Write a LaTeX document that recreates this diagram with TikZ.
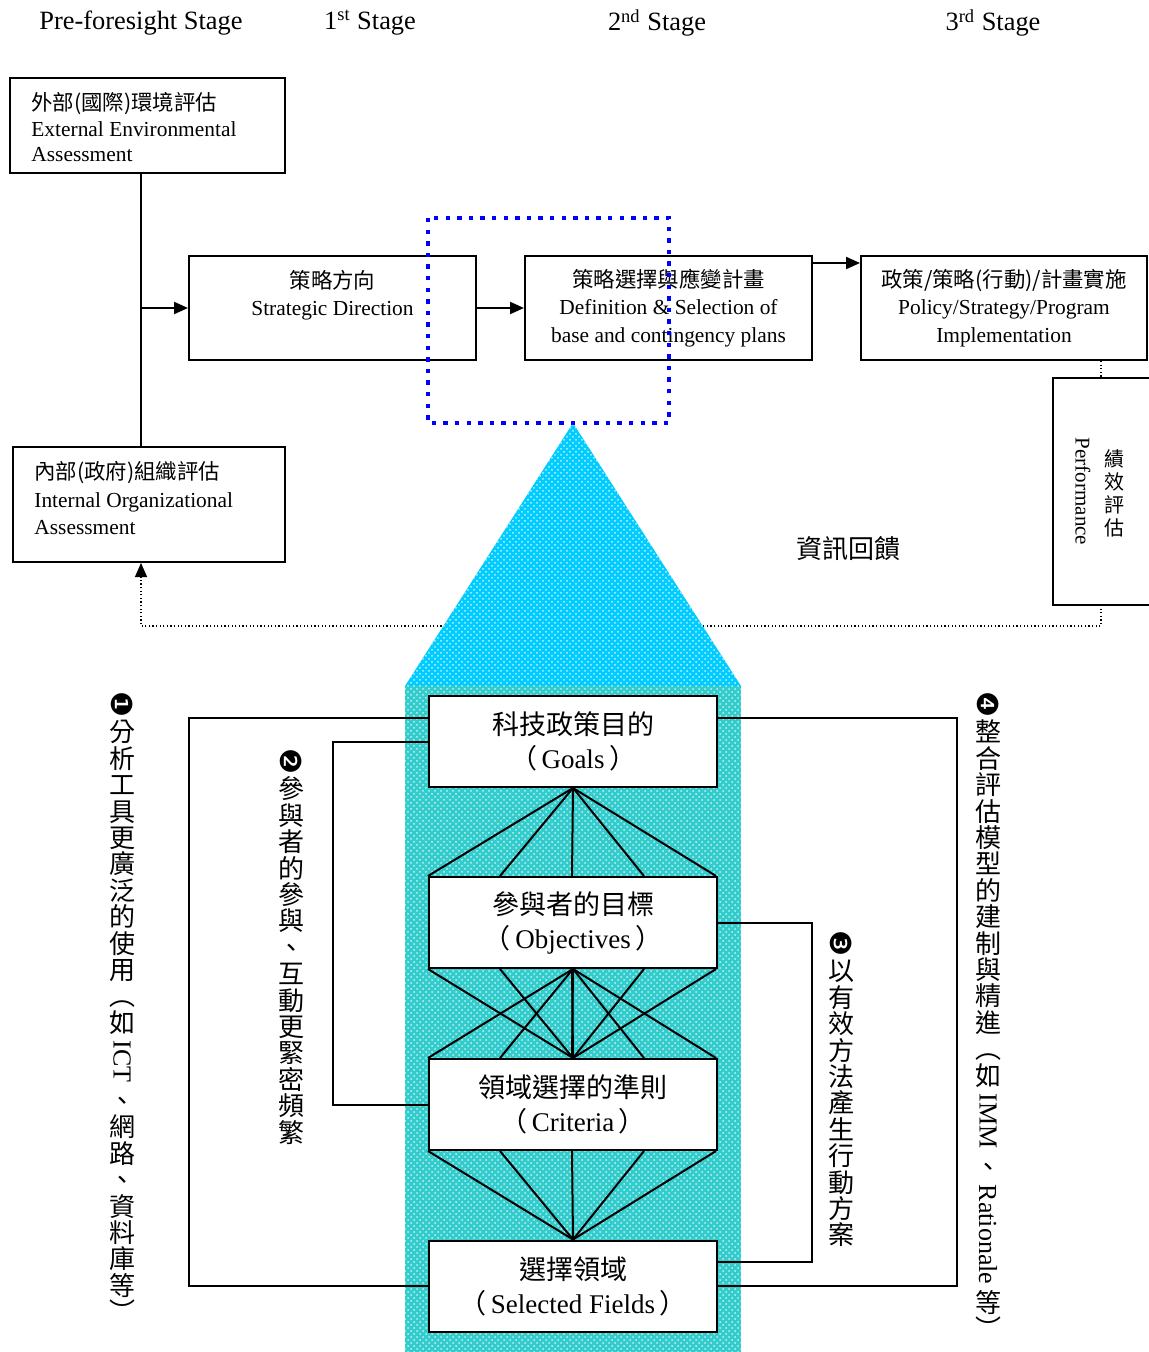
\documentclass[tikz,border=0pt]{standalone}
\usepackage{fontspec}
\usepackage{graphicx}
\setmainfont{Liberation Serif}
\newfontfamily\cj{Noto Sans CJK TC}
\newfontfamily\dv{DejaVu Sans}
\usetikzlibrary{arrows.meta,patterns}
\definecolor{triC}{RGB}{0,204,255}
\definecolor{tealC}{RGB}{51,204,204}
\definecolor{blueC}{RGB}{0,0,255}
\newdimen\vp
\newcommand\C[1]{\hbox to 16pt{\hss\vrule width 0pt height \dimexpr 0.38em+0.5\vp\relax depth \dimexpr 0.5\vp-0.38em\relax\smash{#1}\hss}}
\newcommand\Lt[1]{\hbox to 16pt{\hss\vbox{\vskip2.5pt\hbox{\rotatebox{-90}{\rmfamily #1}}\vskip2.5pt}\hss}}
\newcommand\Nm[1]{\C{\rotatebox[origin=c]{-90}{\dv\fontsize{14.5}{15}\selectfont #1}}}
\newcommand\pl{{\cj （}\,}
\newcommand\pr{\,{\cj ）}}
\tikzset{
  ln/.style={line width=1pt},
  box/.style={draw, line width=1pt, fill=white, inner sep=0pt, align=center},
  topbox/.style={box, minimum height=52pt, font=\fontsize{10.7}{13.75}\selectfont},
  lowbox/.style={box, minimum width=144pt, minimum height=45.5pt, font=\fontsize{13.5}{17}\selectfont},
  arr/.style={-{Triangle[length=7pt,width=6pt]}},
  fb/.style={line width=0.6pt, dash pattern=on 0.6pt off 1.2pt},
  stage/.style={font=\fontsize{13.2}{15}\selectfont},
  vcol/.style={anchor=north, inner sep=0pt, font=\cj\fontsize{13}{13}\selectfont},
}
\begin{document}
\begin{tikzpicture}[x=0.5pt,y=-0.5pt]
\useasboundingbox (0,0) rectangle (1148,1352);
\fill[white] (0,0) rectangle (1148,1352);

% stage labels
\node[stage] (s0) at (141,23) {Pre-foresight Stage};
\node[stage] (s1) at (370,23) {1\textsuperscript{st} Stage};
\node[stage] (s2) at (657,23) {2\textsuperscript{nd} Stage};
\node[stage] (s3) at (993,23) {3\textsuperscript{rd} Stage};

\coordinate (perfT) at (1101,378);
\coordinate (perfB) at (1101,605);
\coordinate (fbl) at (141,626);
\coordinate (jx) at (141,0);

% top boxes
\node[box, minimum width=137.5pt, minimum height=47.5pt] (ext) at (147.5,125.5) {};
\node[anchor=west, align=left, inner sep=0pt, font=\fontsize{10.7}{12.75}\selectfont] (extT) at (31,127.5)
  {{\cj 外部(國際)環境評估}\\External Environmental\\Assessment};
\node[box, minimum width=136pt, minimum height=57.5pt] (int) at (149,504.5) {};
\node[anchor=west, align=left, inner sep=0pt, font=\fontsize{10.7}{13.75}\selectfont] (intT) at (34,498.5)
  {{\cj 內部(政府)組織評估}\\Internal Organizational\\Assessment};
\node[topbox, minimum width=143.5pt] (strat) at (332.5,308) {};
\node[align=center, inner sep=0pt, font=\fontsize{10.7}{13.75}\selectfont] (stratT) at (332.5,295)
  {{\cj 策略方向}\\Strategic Direction};
\node[topbox, minimum width=143.5pt] (def) at (668.5,308)
  {{\cj 策略選擇與應變計畫}\\Definition \& Selection of\\base and contingency plans};
\node[topbox, minimum width=143pt] (pol) at (1004,308)
  {{\cj 政策/策略(行動)/計畫實施}\\Policy/Strategy/Program\\Implementation};

% performance box
\draw[ln] (1150,378) -- (1053,378) -- (1053,605) -- (1150,605);
\node[rotate=-90, inner sep=0pt, font=\fontsize{10.5}{12}\selectfont] (perfEn) at (1083,491.5) {Performance};
\node[vcol, font=\cj\fontsize{10}{10}\selectfont] (perfZh) at (1114,447)
  {\vp=11.5pt\vbox{\offinterlineskip\C{績}\C{效}\C{評}\C{估}}};

\node[font=\cj\fontsize{13}{15}\selectfont] (fbT) at (848,549) {資訊回饋};

% connectors top
\draw[ln] (ext.south -| jx) -- (int.north -| jx);
\draw[ln,arr] (jx |- strat.west) -- (strat.west);
\draw[ln,arr] (strat.east) -- (def.west);
\draw[ln,arr] ([yshift=-4pt]def.north east) -- ([yshift=-4pt]pol.north west);
\draw[fb] (pol.south -| perfT) -- (perfT);
\draw[fb,arr] (perfB) |- (fbl) -- (int.south -| fbl);

% triangle and column background
\fill[triC] (573,423) -- (405,686) -- (741,686) -- cycle;
\fill[pattern=crosshatch dots, pattern color=white!75!triC] (573,423) -- (405,686) -- (741,686) -- cycle;
\fill[tealC] (405,686) rectangle (741,1352);
\fill[pattern=crosshatch dots, pattern color=white!70!tealC] (405,686) rectangle (741,1352);

% lower boxes
\node[lowbox] (goals) at (573,741.5) {{\cj 科技政策目的}\\\pl Goals\pr};
\node[lowbox] (obj) at (573,922.5) {{\cj 參與者的目標}\\\pl Objectives\pr};
\node[lowbox] (crit) at (573,1104.5) {{\cj 領域選擇的準則}\\\pl Criteria\pr};
\node[lowbox] (sel) at (573,1286) {{\cj 選擇領域}\\\pl Selected Fields\pr};

% fans
\foreach \s in {0,36,72,108,144} {
  \draw[ln] (goals.south) -- ([xshift=\s pt]obj.north west);
  \draw[ln] (obj.south) -- ([xshift=\s pt]crit.north west);
  \draw[ln] ([xshift=\s pt]obj.south west) -- (crit.north);
  \draw[ln] ([xshift=\s pt]crit.south west) -- (sel.north);
}

% side loops
\coordinate (c1) at (189,0);
\coordinate (c2) at (333,0);
\coordinate (c3) at (812,0);
\coordinate (c4) at (957,0);
\coordinate (s3p) at ([yshift=12pt]sel.east);
\draw[ln] ([yshift=11.75pt]goals.west) -| (c1 |- sel.west) -- (sel.west);
\draw[ln] (goals.west) -| (c2 |- crit.west) -- (crit.west);
\draw[ln] (obj.east) -| (c3 |- s3p) -- (s3p);
\draw[ln] ([yshift=11.75pt]goals.east) -| (c4 |- sel.east) -- (sel.east);

% vertical texts
\node[vcol] (v1) at (122,692) {\vp=13.2pt\vbox{\offinterlineskip
  \Nm{❶}\C{分}\C{析}\C{工}\C{具}\C{更}\C{廣}\C{泛}\C{的}\C{使}\C{用}\C{︵}\C{如}\Lt{ICT}\C{、}\C{網}\C{路}\C{、}\C{資}\C{料}\C{庫}\C{等}\C{︶}}};
\node[vcol] (v2) at (291,749) {\vp=13.2pt\vbox{\offinterlineskip
  \Nm{❷}\C{參}\C{與}\C{者}\C{的}\C{參}\C{與}\C{、}\C{互}\C{動}\C{更}\C{緊}\C{密}\C{頻}\C{繁}}};
\node[vcol] (v3) at (841,931) {\vp=13.2pt\vbox{\offinterlineskip
  \Nm{❸}\C{以}\C{有}\C{效}\C{方}\C{法}\C{產}\C{生}\C{行}\C{動}\C{方}\C{案}}};
\node[vcol] (v4) at (988,692) {\vp=13.2pt\vbox{\offinterlineskip
  \Nm{❹}\C{整}\C{合}\C{評}\C{估}\C{模}\C{型}\C{的}\C{建}\C{制}\C{與}\C{精}\C{進}\C{︵}\C{如}\Lt{IMM}\C{、}\Lt{Rationale}\C{等}\C{︶}}};

% blue dotted frame
\draw[blueC, line width=2.2pt, dash pattern=on 2.2pt off 3.6pt] (428,218) rectangle (669,423);
\end{tikzpicture}
\end{document}
